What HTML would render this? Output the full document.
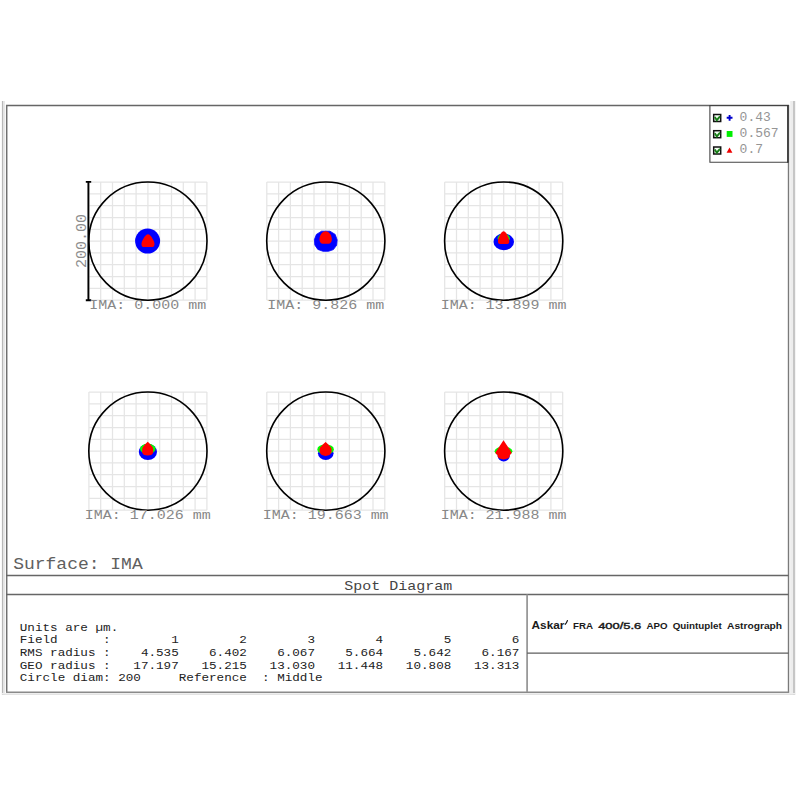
<!DOCTYPE html>
<html><head><meta charset="utf-8"><title>Spot Diagram</title>
<style>html,body{margin:0;padding:0;background:#fff;width:800px;height:800px;overflow:hidden}svg{display:block}</style>
</head><body>
<svg width="800" height="800" viewBox="0 0 800 800">
<rect x="0" y="0" width="800" height="800" fill="#fff"/>
<rect x="1.9" y="101" width="1.2" height="594" fill="#b8b8b8"/>
<rect x="3.1" y="101" width="1.7" height="594" fill="#e2e2e2"/>
<rect x="790.2" y="101" width="2.8" height="594" fill="#ededed"/>
<rect x="793" y="101" width="2.2" height="594" fill="#c6c6c6"/>
<rect x="2" y="693" width="793" height="1.2" fill="#eeeeee"/>
<rect x="2" y="694.2" width="793" height="0.8" fill="#dddddd"/>
<path d="M88.90 182.10V300.10M88.90 182.10H206.90M100.70 182.10V300.10M88.90 193.90H206.90M112.50 182.10V300.10M88.90 205.70H206.90M124.30 182.10V300.10M88.90 217.50H206.90M136.10 182.10V300.10M88.90 229.30H206.90M147.90 182.10V300.10M88.90 241.10H206.90M159.70 182.10V300.10M88.90 252.90H206.90M171.50 182.10V300.10M88.90 264.70H206.90M183.30 182.10V300.10M88.90 276.50H206.90M195.10 182.10V300.10M88.90 288.30H206.90M206.90 182.10V300.10M88.90 300.10H206.90" stroke="#e5e5e5" stroke-width="1.25" fill="none"/>
<circle cx="147.9" cy="241.1" r="59.1" stroke="#000" stroke-width="1.6" fill="none"/>
<path d="M266.80 182.10V300.10M266.80 182.10H384.80M278.60 182.10V300.10M266.80 193.90H384.80M290.40 182.10V300.10M266.80 205.70H384.80M302.20 182.10V300.10M266.80 217.50H384.80M314.00 182.10V300.10M266.80 229.30H384.80M325.80 182.10V300.10M266.80 241.10H384.80M337.60 182.10V300.10M266.80 252.90H384.80M349.40 182.10V300.10M266.80 264.70H384.80M361.20 182.10V300.10M266.80 276.50H384.80M373.00 182.10V300.10M266.80 288.30H384.80M384.80 182.10V300.10M266.80 300.10H384.80" stroke="#e5e5e5" stroke-width="1.25" fill="none"/>
<circle cx="325.8" cy="241.1" r="59.1" stroke="#000" stroke-width="1.6" fill="none"/>
<path d="M444.70 182.10V300.10M444.70 182.10H562.70M456.50 182.10V300.10M444.70 193.90H562.70M468.30 182.10V300.10M444.70 205.70H562.70M480.10 182.10V300.10M444.70 217.50H562.70M491.90 182.10V300.10M444.70 229.30H562.70M503.70 182.10V300.10M444.70 241.10H562.70M515.50 182.10V300.10M444.70 252.90H562.70M527.30 182.10V300.10M444.70 264.70H562.70M539.10 182.10V300.10M444.70 276.50H562.70M550.90 182.10V300.10M444.70 288.30H562.70M562.70 182.10V300.10M444.70 300.10H562.70" stroke="#e5e5e5" stroke-width="1.25" fill="none"/>
<circle cx="503.7" cy="241.1" r="59.1" stroke="#000" stroke-width="1.6" fill="none"/>
<path d="M88.90 392.10V510.10M88.90 392.10H206.90M100.70 392.10V510.10M88.90 403.90H206.90M112.50 392.10V510.10M88.90 415.70H206.90M124.30 392.10V510.10M88.90 427.50H206.90M136.10 392.10V510.10M88.90 439.30H206.90M147.90 392.10V510.10M88.90 451.10H206.90M159.70 392.10V510.10M88.90 462.90H206.90M171.50 392.10V510.10M88.90 474.70H206.90M183.30 392.10V510.10M88.90 486.50H206.90M195.10 392.10V510.10M88.90 498.30H206.90M206.90 392.10V510.10M88.90 510.10H206.90" stroke="#e5e5e5" stroke-width="1.25" fill="none"/>
<circle cx="147.9" cy="451.1" r="59.1" stroke="#000" stroke-width="1.6" fill="none"/>
<path d="M266.80 392.10V510.10M266.80 392.10H384.80M278.60 392.10V510.10M266.80 403.90H384.80M290.40 392.10V510.10M266.80 415.70H384.80M302.20 392.10V510.10M266.80 427.50H384.80M314.00 392.10V510.10M266.80 439.30H384.80M325.80 392.10V510.10M266.80 451.10H384.80M337.60 392.10V510.10M266.80 462.90H384.80M349.40 392.10V510.10M266.80 474.70H384.80M361.20 392.10V510.10M266.80 486.50H384.80M373.00 392.10V510.10M266.80 498.30H384.80M384.80 392.10V510.10M266.80 510.10H384.80" stroke="#e5e5e5" stroke-width="1.25" fill="none"/>
<circle cx="325.8" cy="451.1" r="59.1" stroke="#000" stroke-width="1.6" fill="none"/>
<path d="M444.70 392.10V510.10M444.70 392.10H562.70M456.50 392.10V510.10M444.70 403.90H562.70M468.30 392.10V510.10M444.70 415.70H562.70M480.10 392.10V510.10M444.70 427.50H562.70M491.90 392.10V510.10M444.70 439.30H562.70M503.70 392.10V510.10M444.70 451.10H562.70M515.50 392.10V510.10M444.70 462.90H562.70M527.30 392.10V510.10M444.70 474.70H562.70M539.10 392.10V510.10M444.70 486.50H562.70M550.90 392.10V510.10M444.70 498.30H562.70M562.70 392.10V510.10M444.70 510.10H562.70" stroke="#e5e5e5" stroke-width="1.25" fill="none"/>
<circle cx="503.7" cy="451.1" r="59.1" stroke="#000" stroke-width="1.6" fill="none"/>
<path d="M88.4 181.8V300.4M85.8 181.9H91.2M85.8 300.3H91.2" stroke="#000" stroke-width="1.9" fill="none"/>
<text transform="translate(86.3 241.1) rotate(-90)" text-anchor="middle" style="font-family:&quot;Liberation Mono&quot;,monospace;font-size:15px" fill="#8c8c8c">200.00</text>
<circle cx="147.6" cy="241.1" r="12.5" fill="#0000ff"/>
<path d="M148 234.3C150.1 234.3 151.9 237.4 153.5 240.4C155 243.2 155 247 152 247H144C141 247 141 243.2 142.5 240.4C144.1 237.4 145.9 234.3 148 234.3Z" fill="#ff0000"/>
<path d="M321.5 231.2H330L335.2 234.4L337.2 240L336.6 245.3L333.4 249.6L328.5 251.3H323L317.8 249.4L314.8 245L314.4 239.6L316.4 234.4Z" fill="#0000ff" stroke="#0000ff" stroke-width="0.8" stroke-linejoin="round"/>
<path d="M325.6 231.3C329.5 231.3 331.8 236 331.8 239.5C331.8 242 330.4 243.8 328.3 243.8H322.9C320.8 243.8 319.5 242 319.5 239.5C319.5 236 321.7 231.3 325.6 231.3Z" fill="#ff0000"/>
<ellipse cx="503.75" cy="241.9" rx="10.25" ry="8.4" fill="#0000ff"/>
<ellipse cx="503.75" cy="238.2" rx="6.1" ry="4.6" fill="#00ff00"/>
<path d="M503.6 231.3C505.4 231.3 506.9 234.3 508.3 237.2C509.6 240 509.8 244 507.2 244H500C497.4 244 497.6 240 498.9 237.2C500.3 234.3 501.8 231.3 503.6 231.3Z" fill="#ff0000"/>
<ellipse cx="147.9" cy="452" rx="9.1" ry="8" fill="#0000ff"/>
<ellipse cx="147.8" cy="448.8" rx="7.8" ry="5.1" fill="#00ff00"/>
<path d="M147.75 441.8C149 443 151 445 152.6 447C153.5 448.4 153.5 452 152.9 453.3C152.2 454.8 150.6 455.5 147.7 455.5C144.8 455.5 143.2 454.8 142.5 453.3C141.9 452 141.9 448.4 142.8 447C144.4 445 146.5 443 147.75 441.8Z" fill="#ff0000"/>
<ellipse cx="325.75" cy="453.2" rx="7.8" ry="6.9" fill="#0000ff"/>
<ellipse cx="325.6" cy="449.4" rx="8.3" ry="5" fill="#00ff00"/>
<path d="M325.6 442C327 443.3 329 445.2 330.9 447.3C331.9 448.6 331.9 451.5 331.2 452.8C330.4 454.6 328.8 455.9 325.6 455.9C322.4 455.9 320.8 454.6 320 452.8C319.3 451.5 319.3 448.6 320.3 447.3C322.2 445.2 324.2 443.3 325.6 442Z" fill="#ff0000"/>
<circle cx="503.7" cy="455.5" r="6.1" fill="#0000ff"/>
<ellipse cx="503.5" cy="451.2" rx="8.9" ry="4.7" fill="#00ff00"/>
<path d="M503.5 440.3L511.6 452.4L511.1 454L509.6 455.1V456.6C509 458.4 506.6 459.4 503.6 459.4C500.6 459.4 498.2 458.4 497.6 456.6V455.1L496 454L495.4 452.4Z" fill="#ff0000"/>
<text x="147.80" y="308.90" text-anchor="middle" style="font-family:&quot;Liberation Mono&quot;,monospace;font-size:15px;white-space:pre" fill="#888" transform="translate(0 308.90) scale(1 0.88) translate(0 -308.90)">IMA: 0.000 mm</text>
<text x="325.70" y="308.90" text-anchor="middle" style="font-family:&quot;Liberation Mono&quot;,monospace;font-size:15px;white-space:pre" fill="#888" transform="translate(0 308.90) scale(1 0.88) translate(0 -308.90)">IMA: 9.826 mm</text>
<text x="503.60" y="308.90" text-anchor="middle" style="font-family:&quot;Liberation Mono&quot;,monospace;font-size:15px;white-space:pre" fill="#888" transform="translate(0 308.90) scale(1 0.88) translate(0 -308.90)">IMA: 13.899 mm</text>
<text x="147.80" y="518.90" text-anchor="middle" style="font-family:&quot;Liberation Mono&quot;,monospace;font-size:15px;white-space:pre" fill="#888" transform="translate(0 518.90) scale(1 0.88) translate(0 -518.90)">IMA: 17.026 mm</text>
<text x="325.70" y="518.90" text-anchor="middle" style="font-family:&quot;Liberation Mono&quot;,monospace;font-size:15px;white-space:pre" fill="#888" transform="translate(0 518.90) scale(1 0.88) translate(0 -518.90)">IMA: 19.663 mm</text>
<text x="503.60" y="518.90" text-anchor="middle" style="font-family:&quot;Liberation Mono&quot;,monospace;font-size:15px;white-space:pre" fill="#888" transform="translate(0 518.90) scale(1 0.88) translate(0 -518.90)">IMA: 21.988 mm</text>
<path d="M6 105.5H789" stroke="#666" stroke-width="1.3" fill="none"/>
<path d="M6.7 105V692.5" stroke="#707070" stroke-width="1.5" fill="none"/>
<path d="M788.5 105V692.5" stroke="#7a7a7a" stroke-width="1.4" fill="none"/>
<path d="M6 692.2H789.2" stroke="#8a8a8a" stroke-width="1.6" fill="none"/>
<path d="M6 575.5H788.5M6 594.5H788.5" stroke="#666" stroke-width="1.3" fill="none"/>
<path d="M527.1 594.5V692" stroke="#999" stroke-width="1.8" fill="none"/>
<path d="M527.1 653.2H788.5" stroke="#5e5e5e" stroke-width="1.3" fill="none"/>
<text x="13.2" y="568.6" style="font-family:&quot;Liberation Mono&quot;,monospace;font-size:18px;white-space:pre" fill="#606060" transform="translate(0 568.8) scale(1 0.88) translate(0 -568.8)">Surface: IMA</text>
<text x="398.3" y="589.8" text-anchor="middle" style="font-family:&quot;Liberation Mono&quot;,monospace;font-size:15px;white-space:pre" fill="#444" transform="translate(0 589.8) scale(1 0.88) translate(0 -589.8)">Spot Diagram</text>
<text x="19.8" y="630.8" style="font-family:&quot;Liberation Mono&quot;,monospace;font-size:12.62px;white-space:pre" fill="#222" transform="translate(0 630.8) scale(1 0.9) translate(0 -630.8)">Units are µm.</text>
<text x="19.8" y="643.3" style="font-family:&quot;Liberation Mono&quot;,monospace;font-size:12.62px;white-space:pre" fill="#222" transform="translate(0 643.3) scale(1 0.9) translate(0 -643.3)">Field      :        1        2        3        4        5        6</text>
<text x="19.8" y="656.0" style="font-family:&quot;Liberation Mono&quot;,monospace;font-size:12.62px;white-space:pre" fill="#222" transform="translate(0 656.0) scale(1 0.9) translate(0 -656.0)">RMS radius :    4.535    6.402    6.067    5.664    5.642    6.167</text>
<text x="19.8" y="668.7" style="font-family:&quot;Liberation Mono&quot;,monospace;font-size:12.62px;white-space:pre" fill="#222" transform="translate(0 668.7) scale(1 0.9) translate(0 -668.7)">GEO radius :   17.197   15.215   13.030   11.448   10.808   13.313</text>
<text x="19.8" y="681.3" style="font-family:&quot;Liberation Mono&quot;,monospace;font-size:12.62px;white-space:pre" fill="#222" transform="translate(0 681.3) scale(1 0.9) translate(0 -681.3)">Circle diam: 200     Reference  : Middle</text>
<text x="531.6" y="628.9" textLength="32.8" lengthAdjust="spacingAndGlyphs" style="font-family:&quot;Liberation Sans&quot;,sans-serif;font-size:11.8px;font-weight:bold" fill="#1a1a1a">Askar</text>
<path d="M565.2 624.2C566.2 623.4 566.8 622.3 567.4 620.6" stroke="#1a1a1a" stroke-width="1.3" fill="none" stroke-linecap="round"/>
<text x="573.0" y="628.9" textLength="20.0" lengthAdjust="spacingAndGlyphs" style="font-family:&quot;Liberation Sans&quot;,sans-serif;font-size:8.6px;font-weight:bold" fill="#1a1a1a">FRA</text>
<text x="598.2" y="628.9" textLength="43.1" lengthAdjust="spacingAndGlyphs" style="font-family:&quot;Liberation Sans&quot;,sans-serif;font-size:8.6px;font-weight:normal" fill="#1a1a1a" stroke="#1a1a1a" stroke-width="0.4">400/5.6</text>
<text x="646.5" y="628.9" textLength="21.0" lengthAdjust="spacingAndGlyphs" style="font-family:&quot;Liberation Sans&quot;,sans-serif;font-size:8.6px;font-weight:bold" fill="#1a1a1a">APO</text>
<text x="672.7" y="628.9" textLength="49.0" lengthAdjust="spacingAndGlyphs" style="font-family:&quot;Liberation Sans&quot;,sans-serif;font-size:8.6px;font-weight:bold" fill="#1a1a1a">Quintuplet</text>
<text x="727.0" y="628.9" textLength="55.1" lengthAdjust="spacingAndGlyphs" style="font-family:&quot;Liberation Sans&quot;,sans-serif;font-size:8.6px;font-weight:bold" fill="#1a1a1a">Astrograph</text>
<path d="M709.9 105.5V162.2H788" stroke="#444" stroke-width="1.1" fill="none"/>
<path d="M709.4 105.5H788.4" stroke="#444" stroke-width="1.2" fill="none"/>
<path d="M787.9 105V162.8" stroke="#333" stroke-width="1.6" fill="none"/>
<rect x="713.7" y="114.5" width="7" height="7" fill="#f4fff4" stroke="#111" stroke-width="1.5"/>
<path d="M714.8 117.1L716.8 120.2L720 116.4" stroke="#167e16" stroke-width="1.9" fill="none"/>
<rect x="713.7" y="130.7" width="7" height="7" fill="#f4fff4" stroke="#111" stroke-width="1.5"/>
<path d="M714.8 133.3L716.8 136.4L720 132.6" stroke="#167e16" stroke-width="1.9" fill="none"/>
<rect x="713.7" y="147.0" width="7" height="7" fill="#f4fff4" stroke="#111" stroke-width="1.5"/>
<path d="M714.8 149.6L716.8 152.7L720 148.9" stroke="#167e16" stroke-width="1.9" fill="none"/>
<path d="M726.7 117.8H732.5M729.6 115V120.7" stroke="#0000cc" stroke-width="1.9" fill="none"/>
<rect x="726.7" y="131" width="5.8" height="5.9" fill="#00ee00"/>
<path d="M729.5 147.4L732.4 152.8H726.6Z" fill="#ee0000"/>
<text x="739.6" y="120.8" style="font-family:&quot;Liberation Mono&quot;,monospace;font-size:13px;white-space:pre" fill="#959595" transform="translate(0 120.8) scale(1 0.95) translate(0 -120.8)">0.43</text>
<text x="739.6" y="136.9" style="font-family:&quot;Liberation Mono&quot;,monospace;font-size:13px;white-space:pre" fill="#959595" transform="translate(0 136.9) scale(1 0.95) translate(0 -136.9)">0.567</text>
<text x="739.6" y="152.9" style="font-family:&quot;Liberation Mono&quot;,monospace;font-size:13px;white-space:pre" fill="#959595" transform="translate(0 152.9) scale(1 0.95) translate(0 -152.9)">0.7</text>
</svg>
</body></html>
